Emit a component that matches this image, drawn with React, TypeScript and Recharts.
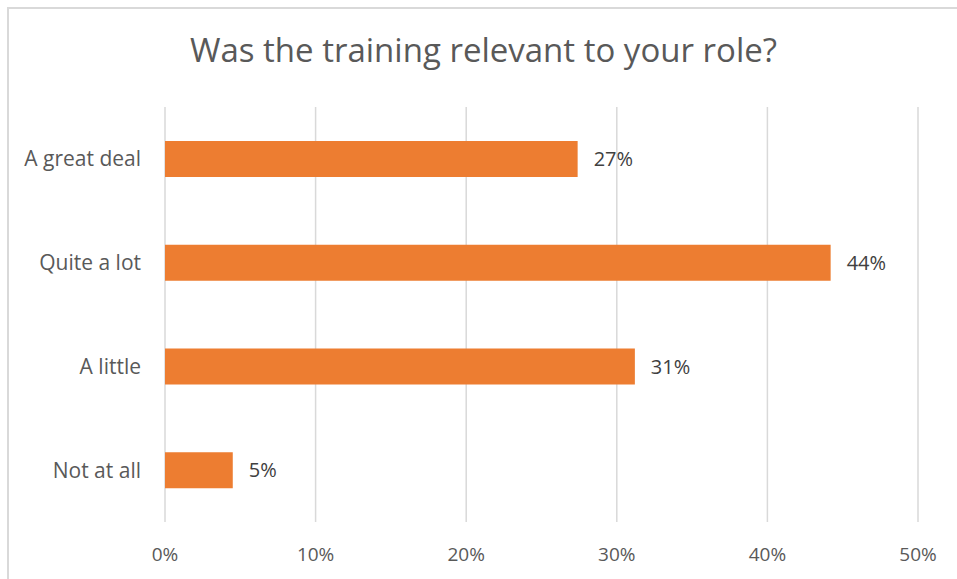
import React from "react";
import { BarChart, Bar, XAxis, YAxis, CartesianGrid, LabelList } from "recharts";

const categories = ["A great deal", "Quite a lot", "A little", "Not at all"];
const shares = [0.274, 0.442, 0.312, 0.045];
const xTicks = [0, 0.1, 0.2, 0.3, 0.4, 0.5];
const title = "Was the training relevant to your role?";

const data = categories.map((c, i) => ({ category: c, share: shares[i] }));
const pct = (v: number) => `${Math.round(v * 100)}%`;
const FONT = "'Open Sans', sans-serif";

export default function App() {
  return (
    <div
      style={{
        position: "fixed",
        left: 7,
        top: 7,
        width: 950,
        height: 572,
        overflow: "hidden",
        borderTop: "2px solid #d9d9d9",
        borderLeft: "2px solid #d9d9d9",
        boxSizing: "border-box",
        background: "#fff",
        fontFamily: FONT,
      }}
    >
      <div
        style={{
          position: "absolute",
          left: 0,
          top: 18,
          width: 949,
          textAlign: "center",
          fontSize: 33,
          color: "#595959",
          fontFamily: FONT,
        }}
      >
        {title}
      </div>
      <div style={{ position: "absolute", left: -1, top: -1 }}>
        <BarChart
          width={949}
          height={571}
          data={data}
          layout="vertical"
          margin={{ top: 99, right: 39, bottom: 0, left: 0 }}
          barCategoryGap={34}
        >
          <CartesianGrid horizontal={false} vertical={true} stroke="#d9d9d9" strokeWidth={1.5} />
          <XAxis
            type="number"
            domain={[0, 0.5]}
            ticks={xTicks}
            tickFormatter={pct}
            axisLine={false}
            tickLine={false}
            tick={{ fill: "#595959", fontSize: 19, fontFamily: FONT }}
            tickMargin={20}
            height={57}
          />
          <YAxis
            type="category"
            dataKey="category"
            width={157}
            axisLine={false}
            tickLine={false}
            tick={{ fill: "#595959", fontSize: 21, fontFamily: FONT }}
            tickMargin={18}
          />
          <Bar dataKey="share" fill="#ED7D31" barSize={36} isAnimationActive={false}>
            <LabelList
              dataKey="share"
              position="right"
              offset={16}
              formatter={(v: any) => pct(Number(v))}
              style={{ fill: "#404040", fontSize: 20, fontFamily: FONT }}
            />
          </Bar>
        </BarChart>
      </div>
    </div>
  );
}
